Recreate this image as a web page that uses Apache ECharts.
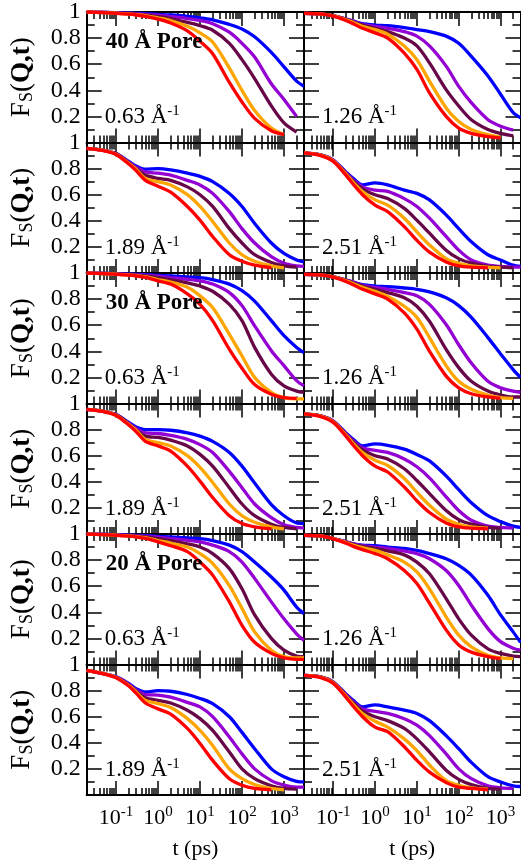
<!DOCTYPE html>
<html><head><meta charset="utf-8">
<script src="https://cdn.jsdelivr.net/npm/echarts@6/dist/echarts.min.js"></script>
<style>html,body{margin:0;padding:0;background:#fff}#c{width:521px;height:865px}</style>
</head><body><div id="c"></div>
<script>
// ---- time grid (ps) ----
const T = [0.02, 0.05, 0.1, 0.2, 0.3, 0.5, 1, 2, 5, 10, 20, 50, 100, 200, 500, 1000, 2000, 3000];
// ---- axis ticks / labels ----
const X_MAJOR = [0.1, 1, 10, 100, 1000];
const X_MINOR = [0.02,0.03,0.04,0.05,0.06,0.07,0.08,0.09,0.2,0.3,0.4,0.5,0.6,0.7,0.8,0.9,2,3,4,5,6,7,8,9,20,30,40,50,60,70,80,90,200,300,400,500,600,700,800,900,2000,3000];
const Y_MAJOR = [0.2, 0.4, 0.6, 0.8];
const Y_MINOR = [0.1, 0.3, 0.5, 0.7, 0.9];
const Y_LABELS = [0.2, 0.4, 0.6, 0.8, 1];
const PORE_LABELS = ['40 Å Pore', '30 Å Pore', '20 Å Pore'];
const Q_LABELS = ['0.63', '1.26', '1.89', '2.51'];
const COLOR_BLUE = '#0000ff', COLOR_PURPLE = '#9400d3', COLOR_MAROON = '#670748', COLOR_ORANGE = '#ffa500', COLOR_RED = '#ff0000';

// ---- 40 Å pore ----
const P40_Q063_BLUE   = [1.00,.998,.995,.992,.99,.987,.982,.977,.967,.955,.94,.905,.87,.81,.69,.58,.47,.43];
const P40_Q063_PURPLE = [1.00,.997,.994,.99,.987,.983,.975,.965,.95,.935,.91,.845,.76,.655,.45,.33,.20,null];
const P40_Q063_MAROON = [1.00,.996,.992,.987,.983,.977,.965,.95,.92,.895,.86,.76,.635,.49,.28,.15,.08,null];
const P40_Q063_ORANGE = [1.00,.996,.991,.985,.98,.972,.955,.935,.89,.84,.77,.57,.40,.245,.11,.06,null,null];
const P40_Q063_RED    = [1.00,.995,.99,.983,.977,.966,.945,.915,.855,.775,.68,.46,.31,.185,.09,.06,null,null];

const P40_Q126_BLUE   = [.99,.985,.97,.945,.93,.91,.90,.895,.88,.865,.85,.815,.76,.66,.51,.37,.23,.19];
const P40_Q126_PURPLE = [.99,.985,.97,.945,.93,.905,.89,.875,.85,.815,.74,.585,.43,.305,.175,.125,.095,null];
const P40_Q126_MAROON = [.99,.985,.97,.945,.925,.90,.875,.85,.80,.74,.61,.405,.28,.175,.10,.07,.05,null];
const P40_Q126_ORANGE = [.99,.985,.97,.94,.92,.89,.865,.83,.74,.635,.47,.265,.16,.10,.06,.04,null,null];
const P40_Q126_RED    = [.99,.985,.968,.935,.91,.875,.84,.80,.685,.56,.38,.20,.11,.07,.045,.035,null,null];

const P40_Q189_BLUE   = [.955,.94,.915,.855,.82,.795,.80,.79,.765,.74,.70,.61,.51,.38,.23,.15,.10,.085];
const P40_Q189_PURPLE = [.955,.94,.915,.85,.81,.775,.765,.75,.71,.675,.61,.47,.34,.23,.125,.075,.055,.05];
const P40_Q189_MAROON = [.955,.94,.913,.845,.80,.75,.725,.71,.66,.60,.51,.34,.23,.14,.08,.055,.045,null];
const P40_Q189_ORANGE = [.955,.94,.91,.84,.795,.725,.70,.675,.60,.51,.395,.23,.14,.09,.055,.04,null,null];
const P40_Q189_RED    = [.955,.938,.908,.835,.785,.71,.665,.62,.51,.405,.28,.14,.09,.06,.04,null,null,null];

const P40_Q251_BLUE   = [.92,.905,.865,.775,.725,.675,.69,.675,.635,.61,.56,.445,.34,.24,.14,.10,.06,.05];
const P40_Q251_PURPLE = [.92,.905,.865,.77,.715,.66,.635,.625,.57,.51,.42,.28,.175,.10,.06,.05,.045,.045];
const P40_Q251_MAROON = [.92,.905,.862,.765,.705,.645,.60,.57,.495,.405,.305,.175,.11,.075,.05,.045,.04,null];
const P40_Q251_ORANGE = [.92,.903,.86,.76,.695,.625,.56,.52,.42,.315,.215,.11,.075,.055,.045,.04,null,null];
const P40_Q251_RED    = [.92,.90,.855,.75,.68,.60,.52,.47,.355,.25,.16,.085,.055,.045,.04,null,null,null];

// ---- 30 Å pore ----
const P30_Q063_BLUE   = [1.00,.998,.995,.992,.99,.987,.982,.977,.97,.965,.95,.915,.865,.785,.635,.52,.43,.39];
const P30_Q063_PURPLE = [1.00,.997,.994,.99,.987,.983,.975,.965,.952,.94,.915,.85,.75,.595,.405,.29,.175,.135];
const P30_Q063_MAROON = [1.00,.996,.992,.987,.983,.977,.965,.95,.925,.90,.86,.76,.635,.43,.225,.135,.095,.085];
const P30_Q063_ORANGE = [1.00,.996,.991,.985,.98,.972,.95,.93,.89,.825,.735,.53,.365,.20,.085,.045,.035,.035];
const P30_Q063_RED    = [1.00,.995,.99,.983,.977,.966,.94,.915,.84,.76,.635,.415,.27,.145,.07,.045,.04,null];

const P30_Q126_BLUE   = [.99,.985,.97,.945,.93,.91,.90,.895,.885,.875,.855,.81,.75,.66,.505,.38,.26,.20];
const P30_Q126_PURPLE = [.99,.985,.97,.945,.93,.905,.89,.875,.85,.825,.76,.605,.45,.31,.17,.12,.095,.085];
const P30_Q126_MAROON = [.99,.985,.97,.945,.925,.90,.875,.85,.81,.745,.63,.415,.275,.17,.095,.065,.05,.05];
const P30_Q126_ORANGE = [.99,.985,.97,.94,.92,.89,.86,.82,.745,.66,.505,.29,.17,.11,.065,.045,.04,null];
const P30_Q126_RED    = [.99,.985,.968,.935,.91,.875,.84,.80,.695,.57,.40,.21,.12,.075,.05,.04,null,null];

const P30_Q189_BLUE   = [.955,.94,.915,.855,.82,.80,.80,.795,.775,.75,.71,.625,.52,.39,.225,.14,.085,.08];
const P30_Q189_PURPLE = [.955,.94,.915,.85,.81,.775,.77,.755,.725,.685,.625,.48,.355,.23,.125,.07,.05,.045];
const P30_Q189_MAROON = [.955,.94,.913,.845,.80,.75,.74,.72,.675,.61,.52,.355,.23,.14,.075,.05,.04,null];
const P30_Q189_ORANGE = [.955,.94,.91,.84,.795,.725,.70,.675,.60,.51,.395,.23,.14,.09,.055,.04,null,null];
const P30_Q189_RED    = [.955,.938,.908,.835,.785,.71,.675,.635,.52,.405,.28,.14,.08,.055,.04,null,null,null];

const P30_Q251_BLUE   = [.92,.905,.865,.775,.725,.675,.69,.68,.65,.61,.56,.445,.34,.24,.14,.095,.06,.05];
const P30_Q251_PURPLE = [.92,.905,.865,.77,.715,.66,.64,.625,.575,.515,.43,.285,.18,.105,.06,.05,.045,null];
const P30_Q251_MAROON = [.92,.905,.862,.765,.705,.645,.60,.575,.50,.41,.31,.18,.11,.075,.05,.045,null,null];
const P30_Q251_ORANGE = [.92,.903,.86,.76,.695,.625,.565,.525,.425,.32,.22,.115,.075,.055,.045,null,null,null];
const P30_Q251_RED    = [.92,.90,.855,.75,.68,.60,.52,.475,.36,.255,.165,.085,.055,.045,.04,null,null,null];

// ---- 20 Å pore ----
const P20_Q063_BLUE   = [1.00,.998,.995,.992,.99,.987,.982,.977,.97,.965,.95,.915,.865,.785,.67,.57,.44,.39];
const P20_Q063_PURPLE = [1.00,.997,.994,.99,.987,.983,.975,.965,.952,.94,.915,.865,.785,.66,.48,.35,.235,.185];
const P20_Q063_MAROON = [1.00,.996,.992,.987,.983,.977,.965,.95,.925,.90,.85,.735,.58,.38,.20,.11,.065,.06];
const P20_Q063_ORANGE = [1.00,.996,.991,.985,.98,.972,.95,.93,.90,.85,.775,.605,.43,.25,.11,.06,.05,.05];
const P20_Q063_RED    = [1.00,.995,.99,.983,.977,.966,.94,.91,.865,.785,.685,.48,.30,.17,.085,.05,.04,.04];

const P20_Q126_BLUE   = [.99,.985,.965,.94,.925,.915,.91,.90,.89,.875,.85,.81,.76,.685,.53,.38,.25,.17];
const P20_Q126_PURPLE = [.99,.985,.965,.94,.925,.91,.90,.89,.87,.85,.81,.72,.605,.455,.275,.175,.125,.11];
const P20_Q126_MAROON = [.99,.985,.965,.94,.92,.905,.89,.87,.84,.785,.695,.505,.35,.225,.12,.085,.065,.06];
const P20_Q126_ORANGE = [.99,.985,.965,.935,.915,.895,.875,.84,.785,.71,.58,.365,.225,.135,.07,.05,.045,null];
const P20_Q126_RED    = [.99,.985,.963,.93,.905,.88,.85,.81,.72,.62,.47,.265,.15,.095,.06,.045,null,null];

const P20_Q189_BLUE   = [.955,.93,.905,.855,.815,.79,.80,.795,.77,.74,.70,.60,.48,.355,.20,.14,.105,.10];
const P20_Q189_PURPLE = [.955,.93,.905,.85,.805,.77,.765,.75,.71,.675,.60,.445,.315,.20,.11,.075,.06,.06];
const P20_Q189_MAROON = [.955,.93,.903,.845,.795,.745,.725,.705,.65,.585,.495,.33,.20,.125,.07,.05,.045,null];
const P20_Q189_ORANGE = [.955,.93,.90,.84,.79,.725,.70,.67,.585,.495,.38,.20,.125,.08,.05,.04,null,null];
const P20_Q189_RED    = [.955,.928,.898,.835,.78,.705,.66,.62,.51,.395,.265,.125,.075,.05,.04,null,null,null];

const P20_Q251_BLUE   = [.917,.905,.865,.775,.725,.675,.69,.675,.65,.625,.57,.455,.355,.25,.14,.10,.07,.065];
const P20_Q251_PURPLE = [.917,.905,.865,.77,.715,.66,.64,.625,.585,.535,.455,.315,.20,.125,.07,.055,.05,null];
const P20_Q251_MAROON = [.917,.905,.862,.765,.705,.645,.60,.57,.51,.43,.33,.19,.12,.08,.05,.045,null,null];
const P20_Q251_ORANGE = [.917,.903,.86,.76,.695,.625,.565,.52,.43,.34,.23,.11,.075,.055,.045,null,null,null];
const P20_Q251_RED    = [.917,.90,.855,.75,.68,.60,.52,.485,.37,.265,.175,.095,.06,.05,.04,null,null,null];

// panel order: row-major, 2 columns
const PANELS = [
  [P40_Q063_BLUE, P40_Q063_PURPLE, P40_Q063_MAROON, P40_Q063_ORANGE, P40_Q063_RED],
  [P40_Q126_BLUE, P40_Q126_PURPLE, P40_Q126_MAROON, P40_Q126_ORANGE, P40_Q126_RED],
  [P40_Q189_BLUE, P40_Q189_PURPLE, P40_Q189_MAROON, P40_Q189_ORANGE, P40_Q189_RED],
  [P40_Q251_BLUE, P40_Q251_PURPLE, P40_Q251_MAROON, P40_Q251_ORANGE, P40_Q251_RED],
  [P30_Q063_BLUE, P30_Q063_PURPLE, P30_Q063_MAROON, P30_Q063_ORANGE, P30_Q063_RED],
  [P30_Q126_BLUE, P30_Q126_PURPLE, P30_Q126_MAROON, P30_Q126_ORANGE, P30_Q126_RED],
  [P30_Q189_BLUE, P30_Q189_PURPLE, P30_Q189_MAROON, P30_Q189_ORANGE, P30_Q189_RED],
  [P30_Q251_BLUE, P30_Q251_PURPLE, P30_Q251_MAROON, P30_Q251_ORANGE, P30_Q251_RED],
  [P20_Q063_BLUE, P20_Q063_PURPLE, P20_Q063_MAROON, P20_Q063_ORANGE, P20_Q063_RED],
  [P20_Q126_BLUE, P20_Q126_PURPLE, P20_Q126_MAROON, P20_Q126_ORANGE, P20_Q126_RED],
  [P20_Q189_BLUE, P20_Q189_PURPLE, P20_Q189_MAROON, P20_Q189_ORANGE, P20_Q189_RED],
  [P20_Q251_BLUE, P20_Q251_PURPLE, P20_Q251_MAROON, P20_Q251_ORANGE, P20_Q251_RED]
];
const SERIES_COLORS = [COLOR_BLUE, COLOR_PURPLE, COLOR_MAROON, COLOR_ORANGE, COLOR_RED];

// ---- layout ----
const FONT = "'Liberation Serif','Times New Roman',serif";
const COL_LEFT = [86.7, 304];
const COL_WIDTH = [217.3, 216.5];
const ROW_TOP0 = 12, ROW_H = 130.5;
const X_MIN = 0.02, X_MAX = 3000;
const LX_MIN = Math.log10(X_MIN), LX_MAX = Math.log10(X_MAX);
const MAJ_LEN = 14, MIN_LEN = 7;

const grids = [], xAxes = [], yAxes = [], series = [], graphics = [];
const axisLineStyle = {color: '#000', width: 2};
const tickStyle = {color: '#000', width: 1.5};

PANELS.forEach((curves, p) => {
  const row = Math.floor(p / 2), col = p % 2;
  const left = COL_LEFT[col], top = ROW_TOP0 + row * ROW_H;
  grids.push({left: left, top: top, width: COL_WIDTH[col], height: ROW_H, containLabel: false, outerBoundsMode: 'none'});
  const gi = p;
  const xBase = xAxes.length;
  // data axis (log)
  xAxes.push({type: 'log', logBase: 10, gridIndex: gi, min: X_MIN, max: X_MAX, show: false});
  // decoration axes in log10 space
  const deco = (pos, vals, len, line, labels) => ({
    type: 'value', gridIndex: gi, position: pos, min: LX_MIN, max: LX_MAX,
    axisLine: {show: line, onZero: false, lineStyle: axisLineStyle},
    axisTick: {show: true, inside: true, length: len, customValues: vals.map(v => Math.log10(v)), lineStyle: tickStyle},
    axisLabel: labels ? {
      show: true, customValues: X_MAJOR.map(v => Math.log10(v)), margin: 10,
      formatter: v => '{b|10}{e|' + Math.round(v) + '}',
      rich: {b: {fontFamily: FONT, fontSize: 22, color: '#000', lineHeight: 26},
             e: {fontFamily: FONT, fontSize: 15, color: '#000', verticalAlign: 'top', lineHeight: 14}}
    } : {show: false},
    splitLine: {show: false},
    name: labels ? 't (ps)' : '', nameLocation: 'middle', nameGap: 43,
    nameTextStyle: {fontFamily: FONT, fontSize: 22, color: '#000'}
  });
  const lastRow = row === 5;
  xAxes.push(deco('bottom', X_MAJOR, MAJ_LEN, true, lastRow));
  xAxes.push(deco('bottom', X_MINOR, MIN_LEN, false, false));
  xAxes.push(deco('top', X_MAJOR, MAJ_LEN, true, false));
  xAxes.push(deco('top', X_MINOR, MIN_LEN, false, false));

  const yBase = yAxes.length;
  const ydeco = (pos, vals, len, line, labels) => ({
    type: 'value', gridIndex: gi, position: pos, min: 0, max: 1,
    axisLine: {show: line, onZero: false, lineStyle: axisLineStyle},
    axisTick: {show: true, inside: true, length: len, customValues: vals, lineStyle: tickStyle},
    axisLabel: labels ? {
      show: true, customValues: Y_LABELS, margin: 6, fontFamily: FONT, fontSize: 24, color: '#000',
      formatter: v => (v === 1 ? '1' : v.toFixed(1))
    } : {show: false},
    splitLine: {show: false},
    name: labels ? '{f|F}{s|S}{p|(}{q|Q,t}{p|)}' : '', nameLocation: 'middle', nameRotate: 90, nameGap: 50,
    nameTextStyle: {rich: {
      f: {fontFamily: FONT, fontSize: 27, color: '#000', lineHeight: 30},
      s: {fontFamily: FONT, fontSize: 18, color: '#000', verticalAlign: 'bottom', lineHeight: 18, padding: [9, 0, 0, 0]},
      p: {fontFamily: FONT, fontSize: 27, color: '#000', lineHeight: 30},
      q: {fontFamily: FONT, fontSize: 27, fontWeight: 'bold', color: '#000', lineHeight: 30}
    }}
  });
  yAxes.push(ydeco('left', Y_MAJOR, 15, true, col === 0));
  yAxes.push(ydeco('left', Y_MINOR, 8, false, false));
  yAxes.push(ydeco('right', Y_MAJOR, 15, true, false));
  yAxes.push(ydeco('right', Y_MINOR, 8, false, false));

  curves.forEach((vals, k) => {
    const data = [];
    T.forEach((t, i) => { if (vals[i] !== null) data.push([t, vals[i]]); });
    series.push({
      type: 'line', xAxisIndex: xBase, yAxisIndex: yBase, data: data,
      showSymbol: false, symbol: 'none', smooth: 0.3, clip: true,
      lineStyle: {color: SERIES_COLORS[k], width: 3.3}, itemStyle: {color: SERIES_COLORS[k]},
      z: 2 + k, animation: false
    });
  });

  // annotations
  graphics.push({
    type: 'text', left: left + 18, top: top + 92, z: 50,
    style: {text: '{a|' + Q_LABELS[(row % 2) * 2 + col] + ' Å}{e|-1}', rich: {
      a: {fontFamily: FONT, fontSize: 23, fill: '#000', lineHeight: 26},
      e: {fontFamily: FONT, fontSize: 15, fill: '#000', verticalAlign: 'top', lineHeight: 14}
    }}
  });
  if (col === 0 && row % 2 === 0) {
    graphics.push({
      type: 'text', left: left + 19, top: top + 19, z: 50,
      style: {text: PORE_LABELS[row / 2], fontFamily: FONT, fontSize: 23, fontWeight: 'bold', fill: '#000'}
    });
  }
});

const chart = echarts.init(document.getElementById('c'), null, {renderer: 'canvas'});
chart.setOption({
  animation: false, backgroundColor: '#fff',
  grid: grids, xAxis: xAxes, yAxis: yAxes, series: series, graphic: graphics
});
</script>
</body></html>
